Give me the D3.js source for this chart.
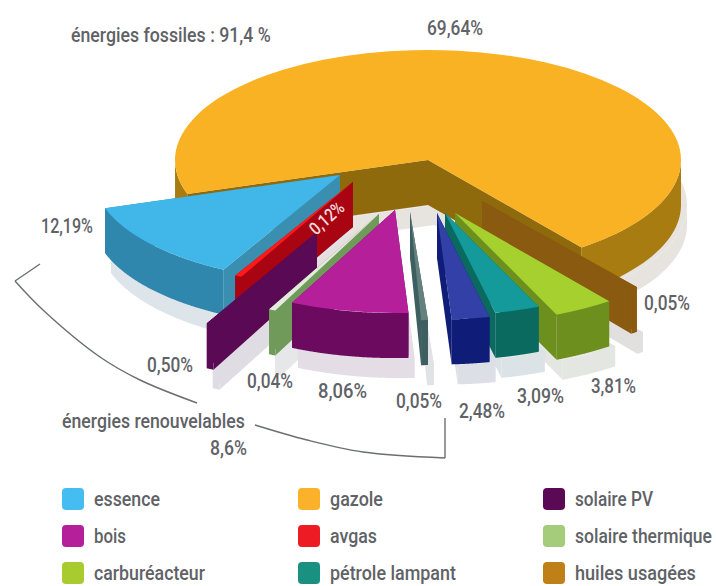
<!DOCTYPE html>
<html>
<head>
	<meta charset="utf-8">
	<title>Energies</title>
	<script src="https://d3js.org/d3.v7.min.js"></script>
	<style>
		body { margin: 0; background: #fff; }
		text { font-family: Roboto, sans-serif; font-weight: 500; fill: #5f6266; }
	</style>
</head>
<body>
	<svg width="716" height="586"></svg>
	<script>
		// slices, clockwise, starting with gazole
		const sliceNames = ['gazole', 'huiles usagées', 'carburéacteur', 'pétrole lampant', 'fioul', 'autre', 'bois', 'solaire thermique', 'solaire PV', 'avgas', 'essence'];
		const sliceValues = [69.64, 0.05, 3.81, 3.09, 2.48, 0.05, 8.06, 0.04, 0.50, 0.12, 12.19];

		const topColors = ['#f9b224', '#8a5a10', '#a6d02e', '#159a9c', '#3340a8', '#64807f', '#b5209a', '#e3ebdc', '#5a0a55', '#ff1a1a', '#41b6e8'];
		const sideColors = ['#a97c12', '#8a5a10', '#6d8f1e', '#0b6a60', '#0f1d78', '#3e5f60', '#6c0a60', '#6f9a5a', '#5a0a55', '#a80412', '#2f87ae'];
		const cutColors = ['#8f6a0c', '#8a5a10', '#6d8f1e', '#0b6a60', '#0f1d78', '#3e5f60', '#6c0a60', '#6f9a5a', '#5a0a55', '#a80412', '#3a8fb0'];

		// how each slice is pulled out of the pie, and its radius
		const explodeX = [0, 54, 27, 17, 9, -18, -33, -49, -111, -75, -88];
		const explodeY = [0, 41, 53, 53, 53, 52, 50, 54, 72, 22, 15];
		const radii = [253, 251, 255, 235, 245, 249, 237, 245, 237, 245, 247];
		const drawOrder = [0, 10, 9, 8, 7, 6, 1, 2, 3, 4, 5];

		// text, x, baseline, width
		const valueLabels = [
			['69,64%', 427, 35, 56], ['12,19%', 41, 233, 52], ['0,50%', 147, 372, 46], ['0,04%', 247, 388, 46],
			['8,06%', 318, 398, 49], ['0,05%', 396, 408, 46], ['2,48%', 459, 418, 46], ['3,09%', 517, 403, 47],
			['3,81%', 591, 393, 45], ['0,05%', 644, 310, 46], ['énergies fossiles : 91,4 %', 71, 42, 200],
			['énergies renouvelables', 62, 428, 183], ['8,6%', 210, 455, 37]
		];

		const legendNames = ['essence', 'bois', 'carburéacteur', 'gazole', 'avgas', 'pétrole lampant', 'solaire PV', 'solaire thermique', 'huiles usagées'];
		const legendWidths = [66, 32, 111, 53, 47, 126, 78, 137, 121];
		const legendColors = ['#45bdf0', '#b5209a', '#a8cc30', '#fbb22a', '#ed1c24', '#1a9080', '#5a0a55', '#a5cc7a', '#c08018'];

		const bracketTickLeft = [[40, 264], [15, 281]];
		const bracketLeft = [[15, 281], [43, 310], [100, 357], [140, 380], [197, 403]];
		const bracketRight = [[255, 425], [307, 440], [363, 452], [445, 458]];
		const bracketTickRight = [[445, 458], [445, 418]];

		const cx = 428, cy = 160, squash = 0.435, depth = 45;
		const minSweep = 1.6 * Math.PI / 180;

		const svg = d3.select('svg');
		const startAngle = 252 * Math.PI / 180;

		const pie = d3.pie().sort(null).startAngle(startAngle).endAngle(startAngle + 2 * Math.PI);
		const arcs = pie(sliceValues);
		const polyline = d3.line();

		function project(i, a, r, drop) {
			return [
				cx + explodeX[i] + r * Math.sin(a),
				cy + explodeY[i] - r * Math.cos(a) * squash + drop
			];
		}

		// squeezes a text to a width, the installed fonts are all too wide
		function fitText(node, x, y, width, extra) {
			const sx = width / node.getComputedTextLength();
			d3.select(node).attr('transform', `translate(${x}, ${y}) ${extra || ''} scale(${sx}, 1)`);
		}

		// draws one extruded slice, or its pale shadow when shadow is a colour
		function drawSlice(parent, i, dx, dy, h, shadow) {
			const d = arcs[i];
			let a0 = d.startAngle, a1 = d.endAngle;
			if (a1 - a0 < minSweep) {
				const mid = (a0 + a1) / 2;
				a0 = mid - minSweep / 2;
				a1 = mid + minSweep / 2;
			}
			const r = radii[i];
			const g = parent.append('g').attr('transform', `translate(${dx}, ${dy})`);

			[a0, a1].forEach(a => {
				g.append('path')
					.attr('d', polyline([
						project(i, a, 0, 0), project(i, a, r, 0),
						project(i, a, r, h), project(i, a, 0, h)
					]) + 'Z')
					.attr('fill', shadow || cutColors[i]);
			});

			// rim, only where it faces the viewer
			const rim = d3.range(0, 121).map(k => a0 + (a1 - a0) * k / 120)
				.filter(a => Math.cos(a) < 0.02);
			const runs = [];
			rim.forEach((a, k) => {
				if (k === 0 || a - rim[k - 1] > 0.2) runs.push([]);
				runs[runs.length - 1].push(a);
			});
			runs.forEach(run => {
				const upper = run.map(a => project(i, a, r, 0));
				const lower = run.map(a => project(i, a, r, h)).reverse();
				g.append('path')
					.attr('d', polyline(upper.concat(lower)) + 'Z')
					.attr('fill', shadow || sideColors[i]);
			});

			g.append('path')
				.attr('d', d3.arc().innerRadius(0).outerRadius(r).startAngle(a0).endAngle(a1)())
				.attr('transform', `translate(${cx + explodeX[i]}, ${cy + explodeY[i]}) scale(1, ${squash})`)
				.attr('fill', shadow || topColors[i]);
		}

		const shadows = svg.append('g');
		drawOrder.forEach(i => {
			const pale = d3.interpolateRgb(topColors[i], '#e6e7ea')(0.95);
			drawSlice(shadows, i, 6, depth, 20, pale);
		});

		const slices = svg.append('g');
		drawOrder.forEach(i => drawSlice(slices, i, 0, 0, depth, null));

		// bracket around the renewables
		const bracketCurve = d3.line().curve(d3.curveCatmullRom);
		const bracketPaths = [polyline(bracketTickLeft), bracketCurve(bracketLeft), bracketCurve(bracketRight), polyline(bracketTickRight)];
		svg.append('g').selectAll('path')
			.data(bracketPaths)
			.enter()
			.append('path')
			.attr('d', d => d)
			.attr('fill', 'none')
			.attr('stroke', '#6b6e72')
			.attr('stroke-width', 1.4);

		svg.append('g').selectAll('text')
			.data(valueLabels)
			.enter()
			.append('text')
			.attr('font-size', 21)
			.text(d => d[0])
			.each(function (d) { fitText(this, d[1], d[2], d[3]); });

		svg.append('text')
			.attr('font-size', 18)
			.style('fill', '#f4dcdc')
			.text('0,12%')
			.each(function () { fitText(this, 316, 236, 40, 'rotate(-42)'); });

		// legend, three columns of three
		const legendX = d3.scaleOrdinal().domain([0, 1, 2]).range([62, 298, 543]);
		const legendY = d3.scaleOrdinal().domain([0, 1, 2]).range([488, 525, 562]);

		const legend = svg.append('g').selectAll('g')
			.data(legendNames)
			.enter()
			.append('g')
			.attr('transform', (d, i) => `translate(${legendX(Math.floor(i / 3))}, ${legendY(i % 3)})`);

		legend.append('rect')
			.attr('width', 22)
			.attr('height', 22)
			.attr('rx', 4)
			.attr('fill', (d, i) => legendColors[i]);

		legend.append('text')
			.attr('font-size', 21)
			.text(d => d)
			.each(function (d, i) { fitText(this, 32, 18, legendWidths[i]); });
	</script>
</body>
</html>
